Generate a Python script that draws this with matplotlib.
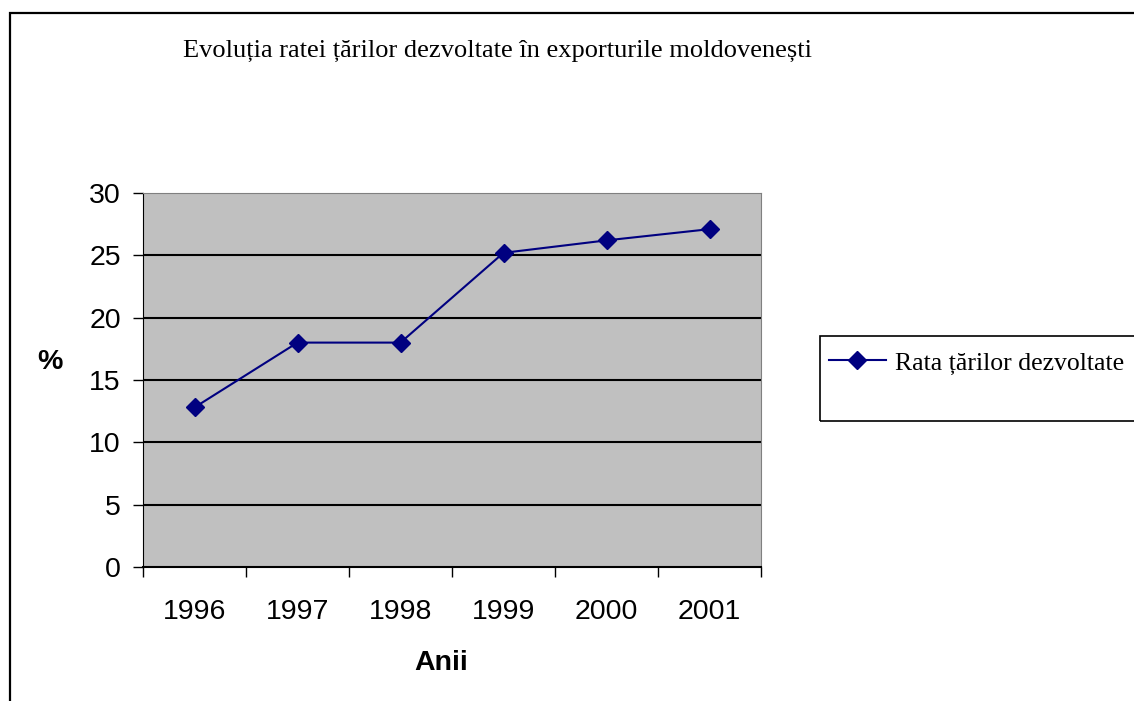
import matplotlib.pyplot as plt
from matplotlib.patches import Rectangle
import numpy as np

# Data
years = ['1996', '1997', '1998', '1999', '2000', '2001']
rata = [12.8, 18.0, 18.0, 25.2, 26.2, 27.1]
yticks = [0, 5, 10, 15, 20, 25, 30]

W, H = 1134, 701
fig = plt.figure(figsize=(W / 100, H / 100), dpi=100)

# outer frame of the chart object (right/bottom edges fall outside the picture)
fig.patches.append(Rectangle((10 / W, -0.1), 1.2, 1 - 13 / H + 0.1,
                             transform=fig.transFigure, fill=False,
                             edgecolor='black', linewidth=1.6, zorder=0))

ax = fig.add_axes([143 / W, 1 - 567 / H, (761 - 143) / W, (567 - 193) / H])
ax.set_facecolor('#c0c0c0')

x = np.arange(len(years))
ax.plot(x, rata, color='#000080', marker='D', markersize=9, linewidth=1.5,
        label='Rata țărilor dezvoltate', zorder=3)

ax.set_xlim(-0.5, len(years) - 0.5)
ax.set_ylim(0, 30)

# y axis
ax.set_yticks(yticks)
ax.tick_params(axis='y', direction='out', length=7, width=1, pad=9,
               labelsize=20.5)
for y in yticks[1:-1]:
    ax.axhline(y, color='black', linewidth=1.5, zorder=1)

# x axis: ticks at category boundaries, labels centred
ax.set_xticks(np.arange(-0.5, len(years), 1.0))
ax.set_xticklabels([])
ax.set_xticks(x, minor=True)
ax.set_xticklabels(years, minor=True)
ax.tick_params(axis='x', which='major', direction='out', length=7, width=1)
ax.tick_params(axis='x', which='minor', length=0, pad=23, labelsize=20.5)

for lab in ax.get_xticklabels(minor=True) + ax.get_yticklabels():
    lab.set_family('Liberation Sans')

ax.spines['left'].set_color('black')
ax.spines['bottom'].set_color('black')
ax.spines['bottom'].set_linewidth(1.5)
ax.spines['top'].set_color('#808080')
ax.spines['right'].set_color('#808080')

ax.set_xlabel('Anii', fontsize=20.5, fontweight='bold', family='Liberation Sans')
ax.xaxis.set_label_coords(0.482, -0.257)
ax.xaxis.label.set_va('center')
ax.set_ylabel('%', fontsize=20.5, fontweight='bold', family='Liberation Sans',
              rotation=0)
ax.yaxis.set_label_coords(-0.150, 0.548)
ax.yaxis.label.set_va('center')

fig.text(183 / W, 1 - 51 / H,
         'Evoluția ratei țărilor dezvoltate în exporturile moldovenești',
         ha='left', va='center', fontsize=19, family='Liberation Serif')

# legend box
fig.patches.append(Rectangle((820 / W, 1 - 421 / H), 0.5, 85 / H,
                             transform=fig.transFigure, fill=False,
                             edgecolor='black', linewidth=1.2))
ax.legend(loc='center left', bbox_to_anchor=(829 / W, 1 - 363 / H),
          bbox_transform=fig.transFigure, frameon=False, borderpad=0,
          borderaxespad=0, handlelength=2.2, handletextpad=0.35,
          prop={'family': 'Liberation Serif', 'size': 18.5})

fig.savefig('out.png', dpi=100)
